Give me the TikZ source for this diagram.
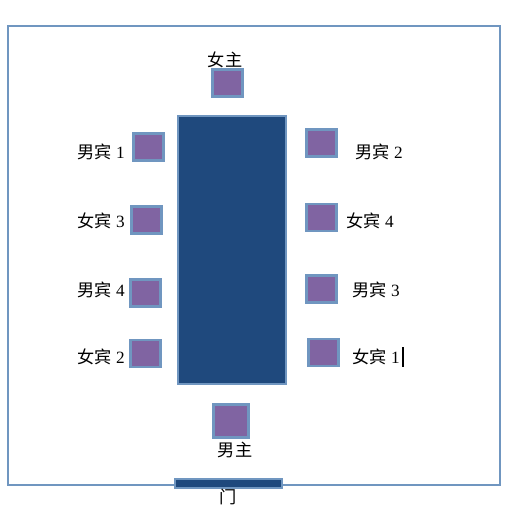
\documentclass[tikz,border=0pt]{standalone}
\usepackage{fontspec}
\setmainfont{Liberation Serif}
\newfontfamily\cjk{Noto Sans CJK SC}
\usetikzlibrary{positioning}
\definecolor{framec}{RGB}{112,150,192}
\definecolor{tablec}{RGB}{31,73,125}
\definecolor{chairc}{RGB}{128,100,162}
\tikzset{
  chair/.style={draw=framec, fill=chairc, line width=1.2pt, inner sep=0pt,
    minimum width=0.6cm, minimum height=0.54cm},
  seatlabel/.style={inner sep=0pt, font=\fontsize{9.8pt}{11pt}\selectfont}
}
\begin{document}
\begin{tikzpicture}[x=0.02cm, y=-0.02cm, line join = miter]
                \useasboundingbox (0,0) rectangle (507,509);
                % room
                \draw[framec, line width=0.9pt] (8,26) rectangle (500,485);
                % table
                \node[draw=framec, fill=tablec, line width=1.1pt, inner sep=0pt,
                  minimum width=2.16cm, minimum height=5.36cm] (table) at (232,250) {};
                % head and foot
                \node[chair] (nvzhu) at (227.5,83) {};
                \node[chair, minimum width=0.7cm, minimum height=0.66cm] (nanzhu) at (231,421) {};
                % left side
                \node[chair] (nanbin1) at (148.5,147) {};
                \node[chair] (nvbin3) at (146.5,220) {};
                \node[chair] (nanbin4) at (145.5,293) {};
                \node[chair] (nvbin2) at (145.5,353.5) {};
                % right side
                \node[chair] (nanbin2) at (321.5,143) {};
                \node[chair] (nvbin4) at (321.5,217.5) {};
                \node[chair] (nanbin3) at (321.5,289) {};
                \node[chair] (nvbin1) at (323.5,352.5) {};
                % door
                \node[draw=framec, fill=tablec, line width=1.1pt, inner sep=0pt,
                  minimum width=2.14cm, minimum height=0.18cm] (door) at (228.5,483.5) {};
                % labels
                \node[seatlabel] (l-nvzhu) at (225,60) {\cjk 女主};
                \node[seatlabel] (l-nanzhu) at (235,450) {\cjk 男主};
                \node[seatlabel] (l-nanbin1) at (101,152) {{\cjk 男宾} 1};
                \node[seatlabel] (l-nvbin3) at (101,221) {{\cjk 女宾} 3};
                \node[seatlabel] (l-nanbin4) at (101,290) {{\cjk 男宾} 4};
                \node[seatlabel] (l-nvbin2) at (101,357) {{\cjk 女宾} 2};
                \node[seatlabel] (l-nanbin2) at (379,152) {{\cjk 男宾} 2};
                \node[seatlabel] (l-nvbin4) at (370,221) {{\cjk 女宾} 4};
                \node[seatlabel] (l-nanbin3) at (376,290) {{\cjk 男宾} 3};
                \node[seatlabel] (l-nvbin1) at (376,357) {{\cjk 女宾} 1};
                \node[seatlabel] (l-door) at (228,497) {\cjk 门};
                % cursor
                \coordinate (c1) at (403,347);
                \coordinate (c2) at (403,367);
                \draw[line width=0.8pt] (c1) -- (c2);
\end{tikzpicture}
\end{document}
